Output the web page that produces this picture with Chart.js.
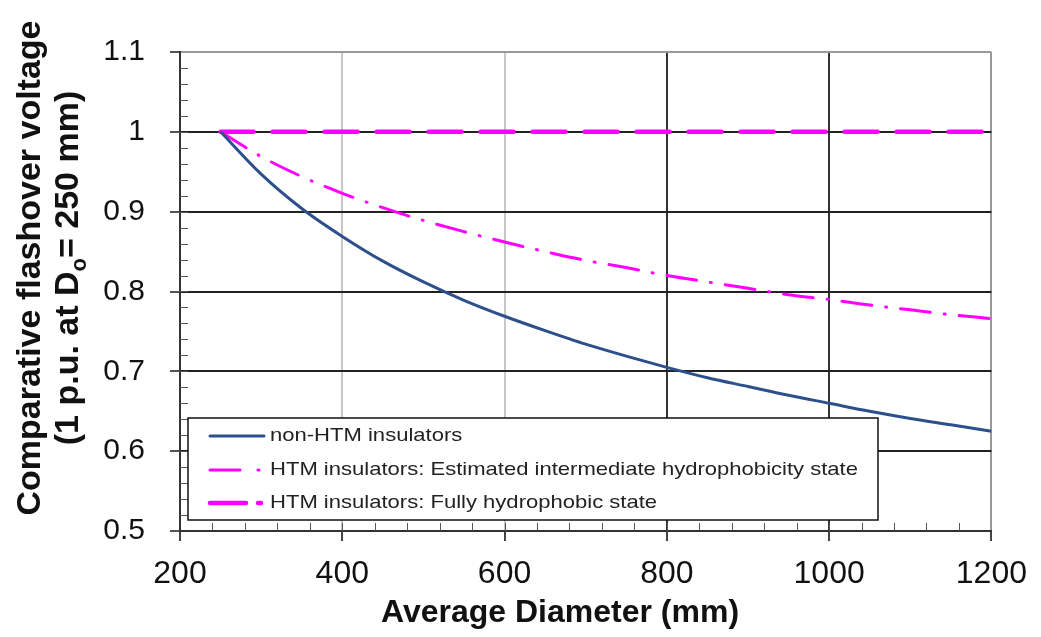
<!DOCTYPE html>
<html>
<head>
<meta charset="utf-8">
<script src="https://cdn.jsdelivr.net/npm/chart.js@4.4.0/dist/chart.umd.min.js"></script>
<style>
html, body { margin: 0; padding: 0; background: #fff; }
#wrap { width: 1041px; height: 637px; position: relative; }
</style>
</head>
<body>
<div id="wrap"><canvas id="myChart"></canvas></div>
<script>
// values
const diameters = [250, 300, 350, 400, 450, 500, 550, 600, 650, 700, 750, 800, 850, 900, 950, 1000, 1050, 1100, 1150, 1200];
const nonHtm = [1.0, 0.947, 0.904, 0.869, 0.838, 0.812, 0.789, 0.769, 0.751, 0.734, 0.719, 0.705, 0.692, 0.681, 0.670, 0.660, 0.650, 0.641, 0.633, 0.625];
const htmIntermediate = [1.0, 0.969, 0.944, 0.923, 0.905, 0.889, 0.875, 0.862, 0.850, 0.839, 0.830, 0.820, 0.812, 0.804, 0.796, 0.790, 0.783, 0.777, 0.771, 0.766];
const htmHydrophobic = [1.0, 1.0, 1.0, 1.0, 1.0, 1.0, 1.0, 1.0, 1.0, 1.0, 1.0, 1.0, 1.0, 1.0, 1.0, 1.0, 1.0, 1.0, 1.0, 1.0];

const xTicks = [200, 400, 600, 800, 1000, 1200];
const xTickLabels = ['200', '400', '600', '800', '1000', '1200'];
const yTicks = [0.5, 0.6, 0.7, 0.8, 0.9, 1.0, 1.1];
const yTickLabels = ['0.5', '0.6', '0.7', '0.8', '0.9', '1', '1.1'];

const seriesNames = [
    'non-HTM insulators',
    'HTM insulators: Estimated intermediate hydrophobicity state',
    'HTM insulators: Fully hydrophobic state'
];

const FONT = '"Liberation Sans", Arial, sans-serif';

function pts(vals) {
    return diameters.map((d, i) => ({ x: d, y: vals[i] }));
}

// small inside ticks + boxed legend + axis titles (subscript in y title)
const extras = {
    id: 'extras',
    afterDatasetsDraw(chart) {
        const ctx = chart.ctx;
        const xs = chart.scales.x, ys = chart.scales.y;
        const a = chart.chartArea;
        ctx.save();
        ctx.strokeStyle = '#555';
        ctx.lineWidth = 1;
        ctx.beginPath();
        for (let v = 0.52; v < 1.1; v += 0.02) {
            const y = Math.round(ys.getPixelForValue(v)) + 0.5;
            ctx.moveTo(a.left, y);
            ctx.lineTo(a.left + 8, y);
        }
        for (let v = 240; v < 1200; v += 40) {
            const x = Math.round(xs.getPixelForValue(v)) + 0.5;
            ctx.moveTo(x, a.bottom);
            ctx.lineTo(x, a.bottom - 8);
        }
        ctx.stroke();

        // legend box
        const bx = a.left + 8, by = 418, bw = 690, bh = 102;
        ctx.fillStyle = '#fff';
        ctx.fillRect(bx, by, bw, bh);
        ctx.strokeStyle = '#111';
        ctx.lineWidth = 1.5;
        ctx.strokeRect(bx, by, bw, bh);
        const rows = [436, 470, 503];
        chart.data.datasets.forEach((ds, i) => {
            const y = rows[i];
            ctx.save();
            ctx.strokeStyle = ds.borderColor;
            ctx.lineWidth = ds.borderWidth;
            ctx.lineCap = 'round';
            ctx.setLineDash(ds.legendDash || []);
            ctx.beginPath();
            ctx.moveTo(bx + 22, y);
            ctx.lineTo(bx + 76, y);
            ctx.stroke();
            ctx.restore();
            ctx.save();
            ctx.translate(bx + 82, y);
            ctx.scale(1.16, 1);
            ctx.fillStyle = '#222';
            ctx.font = '19px ' + FONT;
            ctx.textBaseline = 'middle';
            ctx.fillText(ds.label, 0, 0);
            ctx.restore();
        });

        // x title
        ctx.fillStyle = '#111';
        ctx.font = 'bold 32px ' + FONT;
        ctx.textAlign = 'center';
        ctx.textBaseline = 'middle';
        ctx.fillText('Average Diameter (mm)', 560, 613);

        // y title, two lines, rotated
        ctx.translate(0, 268);
        ctx.rotate(-Math.PI / 2);
        ctx.textBaseline = 'alphabetic';
        ctx.font = 'bold 34px ' + FONT;
        ctx.fillText('Comparative flashover voltage', 0, 40);
        const p1 = '(1 p.u. at D', p2 = 'o', p3 = '= 250 mm)';
        const w1 = ctx.measureText(p1).width, w3 = ctx.measureText(p3).width;
        ctx.font = 'bold 22px ' + FONT;
        const w2 = ctx.measureText(p2).width;
        const x0 = -(w1 + w2 + w3) / 2;
        ctx.textAlign = 'left';
        ctx.font = 'bold 34px ' + FONT;
        ctx.fillText(p1, x0, 78);
        ctx.font = 'bold 22px ' + FONT;
        ctx.fillText(p2, x0 + w1, 86);
        ctx.font = 'bold 34px ' + FONT;
        ctx.fillText(p3, x0 + w1 + w2, 78);
        ctx.restore();
    }
};

const ctx = document.getElementById('myChart').getContext('2d');

const myChart = new Chart(ctx, {
    type: 'line',
    data: {
        datasets: [{
            label: seriesNames[0],
            data: pts(nonHtm),
            borderColor: '#2D4F8B',
            borderWidth: 3,
            pointRadius: 0,
            cubicInterpolationMode: 'monotone'
        }, {
            label: seriesNames[1],
            data: pts(htmIntermediate),
            borderColor: '#FF00FF',
            borderWidth: 3,
            borderDash: [30, 14, 1, 14],
            legendDash: [30, 18, 1, 100],
            borderCapStyle: 'round',
            pointRadius: 0,
            cubicInterpolationMode: 'monotone'
        }, {
            label: seriesNames[2],
            data: pts(htmHydrophobic),
            borderColor: '#FF00FF',
            borderWidth: 4.5,
            borderDash: [33, 19],
            legendDash: [36, 12, 3, 100],
            borderCapStyle: 'round',
            pointRadius: 0
        }]
    },
    options: {
        responsive: true,
        maintainAspectRatio: false,
        animation: false,
        layout: { padding: { top: 52, right: 47, left: 0, bottom: 0 } },
        plugins: {
            legend: { display: false },
            tooltip: { enabled: false }
        },
        scales: {
            x: {
                type: 'linear',
                min: 200,
                max: 1200,
                afterFit: (s) => { s.height = 106; },
                afterBuildTicks: (s) => { s.ticks = xTicks.map(v => ({ value: v })); },
                ticks: {
                    color: '#111',
                    font: { family: FONT, size: 32 },
                    padding: 14,
                    maxRotation: 0,
                    callback: (v, i) => xTickLabels[i]
                },
                grid: {
                    color: (c) => {
                        const v = c.tick ? c.tick.value : 0;
                        if (v === 400 || v === 600) return '#c8c8c8';
                        if (v === 1200) return '#999';
                        return '#333';
                    },
                    lineWidth: 2,
                    tickLength: 10,
                    tickColor: '#444'
                },
                border: { color: '#333', width: 2 }
            },
            y: {
                min: 0.5,
                max: 1.1,
                afterFit: (s) => { s.width = 180; },
                afterBuildTicks: (s) => { s.ticks = yTicks.map(v => ({ value: v })); },
                ticks: {
                    color: '#111',
                    font: { family: FONT, size: 30 },
                    padding: 25,
                    callback: (v, i) => yTickLabels[i]
                },
                grid: {
                    color: (c) => {
                        const v = c.tick ? c.tick.value : 0;
                        if (Math.abs(v - 1.1) < 1e-6) return '#999';
                        return '#222';
                    },
                    lineWidth: 2,
                    tickLength: 10,
                    tickColor: '#555'
                },
                border: { color: '#333', width: 2 }
            }
        }
    },
    plugins: [extras]
});
</script>
</body>
</html>
